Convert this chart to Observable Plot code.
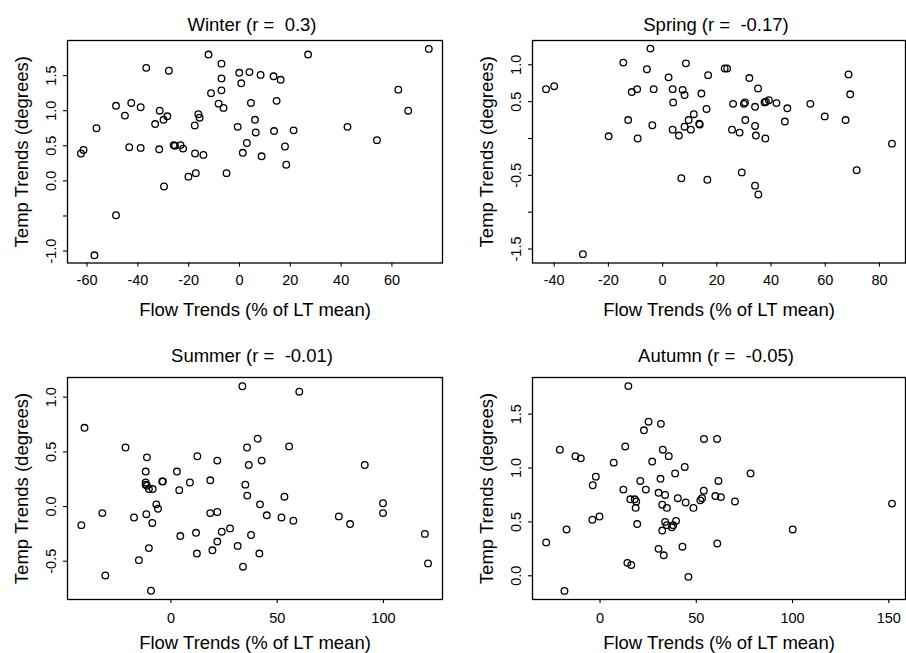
<!DOCTYPE html>
<html><head><meta charset="utf-8">
<script src="https://cdn.jsdelivr.net/npm/d3@7"></script>
<script src="https://cdn.jsdelivr.net/npm/@observablehq/plot@0.6"></script>
<style>
html,body{margin:0;padding:0;background:#fff;}
#wrap{position:relative;width:906px;height:653px;overflow:hidden;background:#fff;}
.panel{position:absolute;}
svg text{white-space:pre;}
</style></head><body><div id="wrap"></div>
<script>
// ---- data ----
const winterFlow = [-62.4,-61.4,-56.3,-57.1,-48.6,-48.6,-45.1,-42.6,-43.4,-38.9,-38.9,-36.7,-33.2,-31.4,-31.6,-29.9,-28.4,-29.7,-27.8,-25.9,-25.4,-23.2,-22.2,-20.1,-17.5,-17.6,-17.2,-16.2,-15.7,-14.2,-12.2,-11.2,-8.2,-7.1,-7.1,-7.1,-6.3,-5.1,-0.7,-0.1,0.7,1.3,2.9,3.9,4.5,6.1,6.4,8.3,8.7,13.4,13.6,14.6,16.2,17.9,18.4,21.3,27.0,42.5,54.1,62.5,66.4,74.5];
const winterTemp = [0.39,0.44,0.75,-1.06,-0.49,1.07,0.93,1.11,0.48,1.05,0.47,1.61,0.81,1.00,0.45,0.87,0.92,-0.08,1.57,0.51,0.50,0.51,0.46,0.06,0.39,0.79,0.11,0.95,0.90,0.37,1.80,1.25,1.10,1.67,1.46,1.29,1.04,0.11,0.77,1.54,1.39,0.40,0.54,1.55,1.11,0.87,0.69,1.51,0.35,1.49,0.71,1.14,1.44,0.49,0.23,0.72,1.80,0.77,0.58,1.30,1.00,1.88];

const springFlow = [-43.0,-40.0,-29.4,-19.9,-14.5,-12.7,-11.4,-9.4,-9.2,-5.8,-4.5,-3.8,-3.3,2.2,3.7,3.9,3.7,6.0,6.9,7.4,8.1,8.1,8.6,9.6,10.4,11.5,13.5,13.7,14.3,16.2,16.5,16.8,22.9,23.8,25.6,26.0,28.4,29.2,30.0,30.4,30.5,32.0,34.1,34.1,34.1,34.4,35.2,35.3,37.6,37.9,38.1,39.2,42.0,45.1,46.0,54.5,59.8,67.5,68.6,69.2,71.6,84.6];
const springTemp = [0.67,0.71,-1.57,0.03,1.03,0.25,0.63,0.67,0.00,0.94,1.22,0.18,0.67,0.83,0.67,0.49,0.12,0.04,-0.54,0.66,0.59,0.16,1.02,0.25,0.12,0.33,0.20,0.19,0.61,0.40,-0.56,0.86,0.95,0.95,0.12,0.47,0.08,-0.46,0.47,0.49,0.25,0.82,0.43,0.17,-0.64,0.04,0.68,-0.76,0.49,0.00,0.50,0.52,0.48,0.23,0.41,0.47,0.30,0.25,0.87,0.60,-0.43,-0.07];

const summerFlow = [-42.2,-40.7,-32.3,-30.9,-21.4,-17.4,-15.1,-11.9,-11.3,-11.9,-11.9,-11.6,-11.3,-10.4,-10.4,-9.4,-8.8,-8.6,-6.9,-6.1,-4.1,-3.8,2.8,3.9,4.4,8.9,11.8,12.2,12.4,18.5,18.5,19.5,21.8,21.8,21.8,23.9,27.8,31.4,33.6,33.9,35.0,35.8,35.9,36.6,37.7,40.8,41.6,41.9,42.7,45.1,52.0,53.4,55.6,57.6,60.4,79.0,84.3,91.2,99.8,99.8,119.5,121.0];
const summerTemp = [-0.17,0.72,-0.06,-0.63,0.54,-0.10,-0.49,0.32,0.45,0.22,0.20,-0.07,0.19,0.16,-0.38,-0.77,-0.15,0.16,0.02,-0.02,0.23,0.23,0.32,0.15,-0.27,0.22,-0.24,-0.43,0.46,0.24,-0.06,-0.40,0.42,-0.05,-0.32,-0.23,-0.20,-0.36,1.10,-0.55,0.20,0.54,0.10,0.38,-0.26,0.62,-0.43,0.02,0.42,-0.08,-0.10,0.09,0.55,-0.13,1.05,-0.09,-0.16,0.38,0.03,-0.06,-0.25,-0.52];

const autumnFlow = [-28.0,-20.9,-18.5,-17.4,-12.8,-10.0,-4.0,-3.8,-2.2,-0.3,7.1,12.1,13.1,14.2,14.7,15.7,16.2,18.0,18.8,18.5,19.3,20.9,22.8,23.8,25.2,27.1,30.4,30.4,31.4,31.6,32.3,32.3,32.6,33.1,33.8,33.8,34.7,34.7,35.7,37.3,38.0,39.0,39.5,40.4,42.8,44.0,44.5,45.9,48.5,52.1,53.0,53.9,54.0,59.9,60.8,60.9,61.5,62.8,70.1,78.2,100.1,151.7];
const autumnTemp = [0.31,1.17,-0.14,0.43,1.11,1.09,0.52,0.84,0.92,0.55,1.05,0.80,1.20,0.12,1.76,0.71,0.10,0.71,0.69,0.63,0.48,0.88,1.35,0.80,1.43,1.06,0.77,0.25,0.90,1.41,0.66,0.42,1.17,0.19,0.75,0.50,0.63,0.47,1.11,0.45,0.47,0.95,0.51,0.72,0.27,1.01,0.68,-0.01,0.63,0.70,0.72,0.79,1.27,0.74,1.27,0.30,0.88,0.73,0.69,0.95,0.43,0.67];

const panelTitles = ["Winter (r =  0.3)", "Spring (r =  -0.17)", "Summer (r =  -0.01)", "Autumn (r =  -0.05)"];
const xAxisLabel = "Flow Trends (% of LT mean)";
const yAxisLabel = "Temp Trends (degrees)";

const winterXTicks = [-60,-40,-20,0,20,40,60];
const springXTicks = [-40,-20,0,20,40,60,80];
const summerXTicks = [0,50,100];
const autumnXTicks = [0,50,100,150];

const winterYTicks = [-1,-0.5,0,0.5,1,1.5];
const winterYLabels = ["-1.0","","0.0","0.5","1.0","1.5"];
const springYTicks = [-1.5,-1,-0.5,0,0.5,1];
const springYLabels = ["-1.5","","-0.5","","0.5","1.0"];
const summerYTicks = [-0.5,0,0.5,1];
const summerYLabels = ["-0.5","0.0","0.5","1.0"];
const autumnYTicks = [0,0.5,1,1.5];
const autumnYLabels = ["0.0","0.5","1.0","1.5"];

// ---- layout ----
const panels = [
  {flow: winterFlow, temp: winterTemp, title: panelTitles[0], xTicks: winterXTicks, yTicks: winterYTicks, yLabels: winterYLabels,
   xDomain: [-67.7, 79.9], yDomain: [-1.17, 2.0], left: 0, top: 0, h: 330, m: [40, 11, 67.5, 67], titleDy: -10, xlDy: 53, tickPadX: 7.6},
  {flow: springFlow, temp: springTemp, title: panelTitles[1], xTicks: springXTicks, yTicks: springYTicks, yLabels: springYLabels,
   xDomain: [-48.0, 89.6], yDomain: [-1.69, 1.33], left: 453, top: 0, h: 330, m: [40, 1, 67.5, 79], titleDy: -10, xlDy: 53, tickPadX: 7.6},
  {flow: summerFlow, temp: summerTemp, title: panelTitles[2], xTicks: summerXTicks, yTicks: summerYTicks, yLabels: summerYLabels,
   xDomain: [-48.7, 127.8], yDomain: [-0.85, 1.18], left: 0, top: 330, h: 323, m: [47, 11, 54, 67], titleDy: -15.5, xlDy: 49, tickPadX: 9.3},
  {flow: autumnFlow, temp: autumnTemp, title: panelTitles[3], xTicks: autumnXTicks, yTicks: autumnYTicks, yLabels: autumnYLabels,
   xDomain: [-35.1, 158.7], yDomain: [-0.22, 1.84], left: 453, top: 330, h: 323, m: [47, 1, 54, 79], titleDy: -15.5, xlDy: 49, tickPadX: 9.3}
];

const wrap = document.getElementById("wrap");
for (const p of panels) {
  const data = p.flow.map((f, i) => ({flow: f, temp: p.temp[i]}));
  const yFmt = new Map(p.yTicks.map((t, i) => [t, p.yLabels[i]]));
  const chart = Plot.plot({
    width: 453, height: p.h,
    marginTop: p.m[0], marginRight: p.m[1], marginBottom: p.m[2], marginLeft: p.m[3],
    style: {fontFamily: "'Liberation Sans', Arial, Helvetica, sans-serif", fontSize: "14.5px", color: "black", background: "white", overflow: "visible"},
    x: {domain: p.xDomain},
    y: {domain: p.yDomain},
    marks: [
      Plot.axisX({ticks: p.xTicks, tickSize: 4, tickPadding: p.tickPadX, fontSize: 14.5, label: null, tickFormat: d => String(d), strokeWidth: 1.1}),
      Plot.axisY({ticks: p.yTicks, tickSize: 4, tickPadding: 8, tickRotate: -90, fontSize: 14.5, label: null, tickFormat: d => yFmt.get(d), strokeWidth: 1.1}),
      Plot.dot(data, {x: "flow", y: "temp", r: 3.3, stroke: "black", strokeWidth: 1.3, fill: "none"}),
      Plot.frame({stroke: "black", strokeWidth: 1.3}),
      Plot.text([p.title], {frameAnchor: "top", dy: p.titleDy, dx: -3, textAnchor: "middle", lineAnchor: "bottom", fontSize: 18.5, fill: "black"}),
      Plot.text([xAxisLabel], {frameAnchor: "bottom", dy: p.xlDy, textAnchor: "middle", lineAnchor: "bottom", fontSize: 18.5, fill: "black"}),
      Plot.text([yAxisLabel], {frameAnchor: "left", dx: -40, rotate: -90, textAnchor: "middle", lineAnchor: "bottom", fontSize: 18.5, fill: "black"})
    ]
  });
  chart.classList.add("panel");
  chart.style.left = p.left + "px";
  chart.style.top = p.top + "px";
  wrap.appendChild(chart);
}
</script></body></html>
